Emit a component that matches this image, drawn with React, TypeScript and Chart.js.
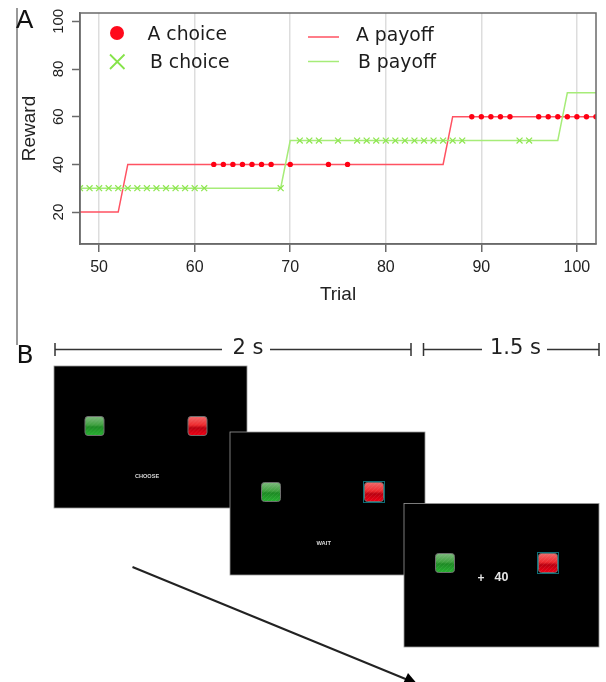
import React, { useEffect, useRef } from "react";
import { Chart, registerables } from "chart.js";

Chart.register(...registerables);

const aPayoffTrials = [48, 52, 53, 86, 87, 102];
const aPayoffValues = [20, 20, 40, 40, 60, 60];
const bPayoffTrials = [48, 69, 70, 98, 99, 102];
const bPayoffValues = [30, 30, 50, 50, 70, 70];
const aChoiceTrials = [62, 63, 64, 65, 66, 67, 68, 70, 74, 76, 89, 90, 91, 92, 93, 96, 97, 98, 99, 100, 101, 102];
const aChoiceValues = [40, 40, 40, 40, 40, 40, 40, 40, 40, 40, 60, 60, 60, 60, 60, 60, 60, 60, 60, 60, 60, 60];
const bChoiceTrials = [48, 49, 50, 51, 52, 53, 54, 55, 56, 57, 58, 59, 60, 61, 69, 71, 72, 73, 75, 77, 78, 79, 80, 81, 82, 83, 84, 85, 86, 87, 88, 94, 95];
const bChoiceValues = [30, 30, 30, 30, 30, 30, 30, 30, 30, 30, 30, 30, 30, 30, 30, 50, 50, 50, 50, 50, 50, 50, 50, 50, 50, 50, 50, 50, 50, 50, 50, 50, 50];
const xTicks = [50, 60, 70, 80, 90, 100];
const yTicks = [20, 40, 60, 80, 100];

const RED = "#ff0013";
const RED_LINE = "#ff5262";
const GREEN = "#8ee650";
const GREEN_LINE = "#a6ec78";
const AXIS = "#6a6a6a";
const SANS = '"DejaVu Sans"';
const HELV = '"Liberation Sans"';

const zip = (xs: number[], ys: number[]) => xs.map((x, i) => ({ x, y: ys[i] }));

function rr(c: CanvasRenderingContext2D, x: number, y: number, w: number, h: number, r: number) {
  c.beginPath();
  c.roundRect(x, y, w, h, r);
}

function button(c: CanvasRenderingContext2D, x: number, y: number, s: number, kind: "g" | "r", sel = false) {
  if (sel) {
    c.fillStyle = "#0d6f78";
    c.fillRect(x - 1.5, y - 1.5, s + 3, s + 3);
    c.fillStyle = "#000";
    c.fillRect(x - 0.5, y - 0.5, s + 1, s + 1);
  }
  const g = c.createLinearGradient(0, y, 0, y + s);
  if (kind === "g") {
    g.addColorStop(0, "#7fb97f");
    g.addColorStop(0.45, "#3fa03f");
    g.addColorStop(0.55, "#1d8a24");
    g.addColorStop(1, "#28b032");
  } else {
    g.addColorStop(0, "#f06a6a");
    g.addColorStop(0.45, "#ee2a2e");
    g.addColorStop(0.6, "#b80010");
    g.addColorStop(1, "#f00014");
  }
  rr(c, x, y, s, s, 3);
  c.fillStyle = g;
  c.fill();
  c.strokeStyle = "#6e6e6e";
  c.lineWidth = 1;
  c.stroke();
  c.save();
  rr(c, x, y, s, s, 3);
  c.clip();
  c.strokeStyle = kind === "g" ? "rgba(180,230,180,0.1)" : "rgba(255,190,190,0.1)";
  c.lineWidth = 1;
  for (let i = -s; i < s; i += 4) {
    c.beginPath();
    c.moveTo(x + i, y + s);
    c.lineTo(x + i + s, y);
    c.stroke();
  }
  c.restore();
}

function text(c: CanvasRenderingContext2D, t: string, x: number, y: number, font: string, color: string, align: CanvasTextAlign = "left") {
  c.font = font;
  c.fillStyle = color;
  c.textAlign = align;
  c.textBaseline = "middle";
  c.fillText(t, x, y);
}

const overlay = {
  id: "overlay",
  afterDatasetsDraw(chart: any) {
    const c: CanvasRenderingContext2D = chart.ctx;
    const a = chart.chartArea;
    c.save();
    // plot frame
    c.strokeStyle = AXIS;
    c.lineWidth = 1.5;
    c.strokeRect(a.left, a.top, a.right - a.left, a.bottom - a.top);
    // legend
    c.fillStyle = "#ff0a1c";
    c.beginPath();
    c.arc(117, 33, 7, 0, Math.PI * 2);
    c.fill();
    c.strokeStyle = "#86e34a";
    c.lineWidth = 1.8;
    c.beginPath();
    c.moveTo(110, 54.5);
    c.lineTo(124.5, 69);
    c.moveTo(124.5, 54.5);
    c.lineTo(110, 69);
    c.stroke();
    c.lineWidth = 1.5;
    c.strokeStyle = RED_LINE;
    c.beginPath();
    c.moveTo(308, 37);
    c.lineTo(339, 37);
    c.stroke();
    c.strokeStyle = GREEN_LINE;
    c.beginPath();
    c.moveTo(308, 61.5);
    c.lineTo(339, 61.5);
    c.stroke();
    const lf = `18.8px ${SANS}`;
    text(c, "A choice", 147.5, 35, lf, "#1c1c1c");
    text(c, "B choice", 150, 63.5, lf, "#1c1c1c");
    text(c, "A payoff", 356, 36, lf, "#1c1c1c");
    text(c, "B payoff", 358, 63.5, lf, "#1c1c1c");

    // panel rule and letters
    c.strokeStyle = "#777";
    c.lineWidth = 1.5;
    c.beginPath();
    c.moveTo(17, 8);
    c.lineTo(17, 345);
    c.stroke();
    text(c, "A", 16, 21, `26px ${HELV}`, "#111");
    text(c, "B", 16.5, 356, `25px ${SANS}`, "#111");

    // time brackets
    c.strokeStyle = "#333";
    c.lineWidth = 1.5;
    const seg = (x1: number, x2: number, capL: boolean, capR: boolean) => {
      c.beginPath();
      c.moveTo(x1, 349.5);
      c.lineTo(x2, 349.5);
      if (capL) {
        c.moveTo(x1, 343);
        c.lineTo(x1, 356);
      }
      if (capR) {
        c.moveTo(x2, 343);
        c.lineTo(x2, 356);
      }
      c.stroke();
    };
    seg(55, 222, true, false);
    seg(270, 411, false, true);
    seg(423.5, 482, true, false);
    seg(547, 599, false, true);
    text(c, "2 s", 232.5, 349, `21px ${SANS}`, "#222");
    text(c, "1.5 s", 490, 349, `21px ${SANS}`, "#222");

    // screens
    const screen = (x: number, y: number, w: number, h: number) => {
      c.fillStyle = "#000";
      c.fillRect(x, y, w, h);
      c.strokeStyle = "#999";
      c.lineWidth = 0.8;
      c.strokeRect(x, y, w, h);
    };
    screen(54, 366, 193, 142);
    button(c, 85, 416.5, 19, "g");
    button(c, 188, 416.5, 19, "r");
    text(c, "CHOOSE", 147, 476.5, `bold 5.6px ${HELV}`, "#d8d8d8", "center");
    screen(230, 432, 195, 143);
    button(c, 261.5, 482.5, 19, "g");
    button(c, 364.5, 482.5, 19, "r", true);
    text(c, "WAIT", 323.7, 543.5, `bold 5.8px ${HELV}`, "#d8d8d8", "center");
    screen(404, 503.5, 195, 143.5);
    button(c, 435.5, 553.5, 19, "g");
    button(c, 538.5, 553.5, 19, "r", true);
    text(c, "+", 481, 579, `bold 12px ${HELV}`, "#e6e6e6", "center");
    text(c, "40", 501.5, 578, `bold 12.5px ${HELV}`, "#e6e6e6", "center");

    // arrow
    c.strokeStyle = "#222";
    c.lineWidth = 2;
    c.beginPath();
    c.moveTo(132.5, 567);
    c.lineTo(408, 680);
    c.stroke();
    c.fillStyle = "#000";
    c.beginPath();
    c.moveTo(408, 673);
    c.lineTo(424, 692);
    c.lineTo(401, 688);
    c.closePath();
    c.fill();
    c.restore();
  },
};

export default function App() {
  const ref = useRef<HTMLCanvasElement>(null);
  useEffect(() => {
    const chart = new Chart(ref.current!, {
      type: "scatter",
      data: {
        datasets: [
          { label: "A payoff", data: zip(aPayoffTrials, aPayoffValues), showLine: true, borderColor: RED_LINE, borderWidth: 1.5, pointRadius: 0, order: 3 },
          { label: "B payoff", data: zip(bPayoffTrials, bPayoffValues), showLine: true, borderColor: GREEN_LINE, borderWidth: 1.5, pointRadius: 0, order: 2 },
          { label: "A choice", data: zip(aChoiceTrials, aChoiceValues), pointStyle: "circle", pointRadius: 2.7, backgroundColor: RED, borderColor: RED, borderWidth: 0, order: 1 },
          { label: "B choice", data: zip(bChoiceTrials, bChoiceValues), pointStyle: "crossRot", pointRadius: 4.2, borderColor: GREEN, backgroundColor: GREEN, borderWidth: 1.2, order: 1 },
        ] as any,
      },
      options: {
        responsive: false,
        animation: false,
        layout: { padding: { top: 13, right: 10, bottom: 372, left: 0 } },
        plugins: { legend: { display: false }, tooltip: { enabled: false } },
        scales: {
          x: {
            type: "linear",
            min: 48,
            max: 102,
            afterFit: (s: any) => { s.height = 66; },
            afterBuildTicks: (s: any) => { s.ticks = xTicks.map((value) => ({ value })); },
            ticks: { includeBounds: false, font: { family: HELV, size: 16 }, color: "#222", padding: 6, maxRotation: 0 },
            grid: { color: "#dddddd", lineWidth: 1.5, tickColor: AXIS, tickLength: 8, tickWidth: 1.5 },
            border: { color: AXIS, width: 1.5 },
            title: { display: true, text: "Trial", color: "#222", font: { family: HELV, size: 19 }, padding: { top: 0, bottom: 4 } },
          },
          y: {
            type: "linear",
            min: 6.6,
            max: 103.5,
            afterFit: (s: any) => { s.width = 80; },
            afterBuildTicks: (s: any) => { s.ticks = yTicks.map((value) => ({ value })); },
            ticks: { includeBounds: false, font: { family: HELV, size: 15 }, color: "#222", padding: 1, minRotation: 90, maxRotation: 90, crossAlign: "center" },
            grid: { drawOnChartArea: false, tickColor: AXIS, tickLength: 8, tickWidth: 1.5 },
            border: { color: AXIS, width: 1.5 },
            title: { display: true, text: "Reward", color: "#222", font: { family: HELV, size: 19 }, padding: { top: 18, bottom: 0 } },
          },
        },
      } as any,
      plugins: [overlay],
    });
    return () => chart.destroy();
  }, []);
  return (
    <div style={{ position: "absolute", left: 0, top: 0, width: 606, height: 682, overflow: "hidden", background: "#fff" }}>
      <canvas ref={ref} width={606} height={682} style={{ display: "block" }} />
    </div>
  );
}
